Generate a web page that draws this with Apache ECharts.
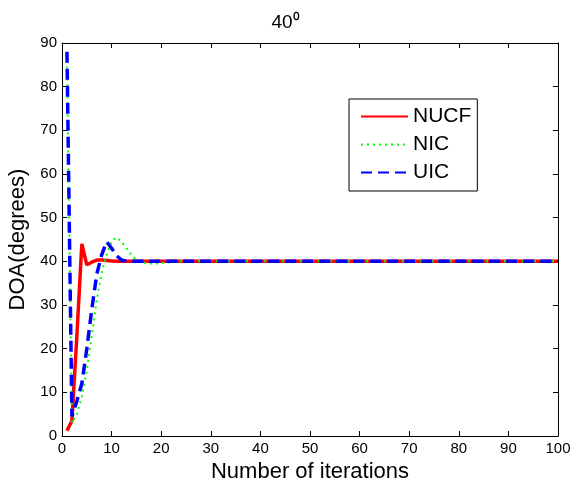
<!DOCTYPE html>
<html><head><meta charset="utf-8">
<script src="https://cdn.jsdelivr.net/npm/echarts@6/dist/echarts.min.js"></script>
<style>html,body{margin:0;padding:0;background:#fff}#c{width:571px;height:481px}</style>
</head><body><div id="c"></div>
<script>
const titleText = '40⁰';
const xTicks = [0,10,20,30,40,50,60,70,80,90,100];
const iterations = [1,2,3,4,5,6,7,8,9,10,11,12,13,14,15,16,17,18,19,20,21,22,23,24,25,26,27,28,29,30,31,32,33,34,35,36,37,38,39,40,41,42,43,44,45,46,47,48,49,50,51,52,53,54,55,56,57,58,59,60,61,62,63,64,65,66,67,68,69,70,71,72,73,74,75,76,77,78,79,80,81,82,83,84,85,86,87,88,89,90,91,92,93,94,95,96,97,98,99,100];
const nucf = [1.2,3.5,23,44,39.2,39.8,40.3,40.3,40.2,40.1,40,40,40,40,40,40,40,40,40,40,40,40,40,40,40,40,40,40,40,40,40,40,40,40,40,40,40,40,40,40,40,40,40,40,40,40,40,40,40,40,40,40,40,40,40,40,40,40,40,40,40,40,40,40,40,40,40,40,40,40,40,40,40,40,40,40,40,40,40,40,40,40,40,40,40,40,40,40,40,40,40,40,40,40,40,40,40,40,40,40];
const nic = [86,3,5,9,15,23,31,37.5,41.5,44.5,45.5,44.5,43,41.5,40.3,39.8,39.6,39.5,39.5,39.6,39.7,39.8,39.9,40,40,40,40,40,40,40,40,40,40,40,40,40,40,40,40,40,40,40,40,40,40,40,40,40,40,40,40,40,40,40,40,40,40,40,40,40,40,40,40,40,40,40,40,40,40,40,40,40,40,40,40,40,40,40,40,40,40,40,40,40,40,40,40,40,40,40,40,40,40,40,40,40,40,40,40,40];
const uic = [88,4.5,8,12,20,29,37,41.5,44.5,43,41.3,40.3,40,40,40,40,40,40,40,40,40,40,40,40,40,40,40,40,40,40,40,40,40,40,40,40,40,40,40,40,40,40,40,40,40,40,40,40,40,40,40,40,40,40,40,40,40,40,40,40,40,40,40,40,40,40,40,40,40,40,40,40,40,40,40,40,40,40,40,40,40,40,40,40,40,40,40,40,40,40,40,40,40,40,40,40,40,40,40,40];

const pairs = arr => iterations.map((x,i)=>[x,arr[i]]);
const font = 'Liberation Sans, Arial, sans-serif';
const chart = echarts.init(document.getElementById('c'));
const axisCommon = {
  axisLine:{show:true,onZero:false,lineStyle:{color:'#000',width:1}},
  axisTick:{show:true,inside:true,length:5,lineStyle:{color:'#000'}},
  splitLine:{show:false}
};
chart.setOption({
  animation:false,
  backgroundColor:'#fff',
  title:{text:titleText,left:'center',top:8,textStyle:{fontFamily:font,fontSize:19,fontWeight:'normal',color:'#000'}},
  grid:{left:62,right:13,top:43,bottom:45,outerBoundsMode:'none',containLabel:false},
  legend:{
    orient:'vertical',left:349,top:99,
    padding:[7,6,8,11],itemGap:7,itemWidth:47,itemHeight:16,
    borderColor:'#000',borderWidth:1,backgroundColor:'#fff',
    itemStyle:{opacity:0},
    textStyle:{fontFamily:font,fontSize:21,color:'#000'},
    data:['NUCF','NIC','UIC']
  },
  xAxis:[
    Object.assign({type:'value',min:0,max:100,interval:10,position:'bottom',
      name:'Number of iterations',nameLocation:'middle',nameGap:25,
      nameTextStyle:{fontFamily:font,fontSize:22,color:'#000'},
      axisLabel:{fontFamily:font,fontSize:15,color:'#000',margin:5}},axisCommon),
    Object.assign({type:'value',min:0,max:100,interval:10,position:'top',axisLabel:{show:false}},axisCommon)
  ],
  yAxis:[
    Object.assign({type:'value',min:0,max:90,interval:10,position:'left',
      name:'DOA(degrees)',nameLocation:'middle',nameGap:26,
      nameTextStyle:{fontFamily:font,fontSize:22,color:'#000'},
      axisLabel:{fontFamily:font,fontSize:15,color:'#000',margin:5}},axisCommon),
    Object.assign({type:'value',min:0,max:90,interval:10,position:'right',axisLabel:{show:false}},axisCommon)
  ],
  series:[
    {name:'NUCF',type:'line',data:pairs(nucf),showSymbol:false,symbol:'none',
      lineStyle:{color:'#ff0000',width:3.5,type:'solid'},itemStyle:{color:'#ff0000'}},
    {name:'NIC',type:'line',data:pairs(nic),showSymbol:false,symbol:'none',
      lineStyle:{color:'#00ff00',width:2,type:[2,4]},itemStyle:{color:'#00ff00'}},
    {name:'UIC',type:'line',data:pairs(uic),showSymbol:false,symbol:'none',
      lineStyle:{color:'#0000ff',width:3.5,type:[11,6]},itemStyle:{color:'#0000ff'}}
  ]
});
</script></body></html>
